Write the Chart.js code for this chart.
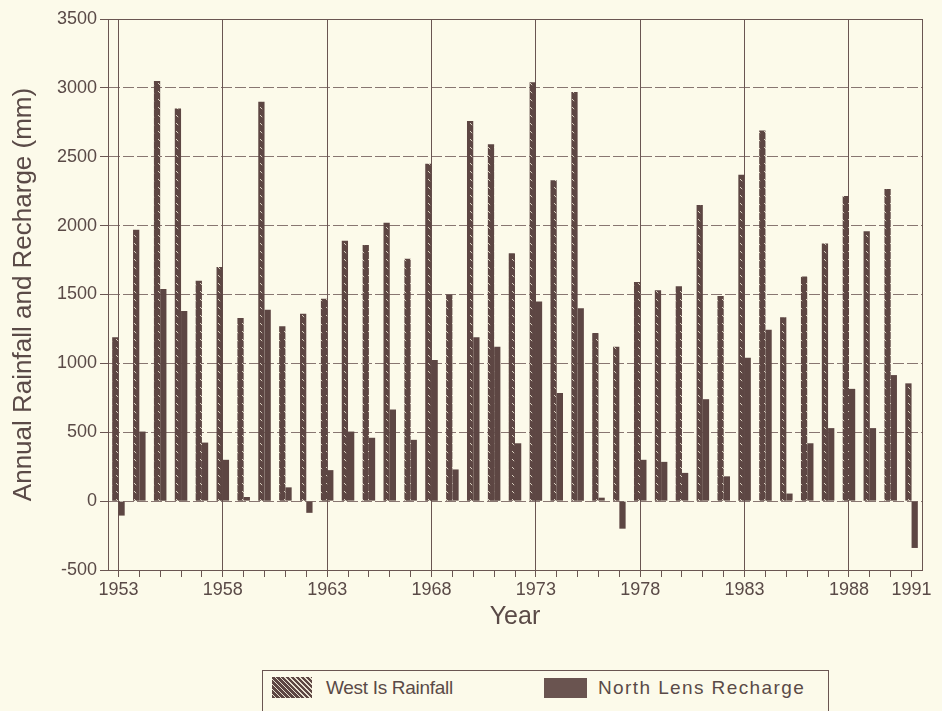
<!DOCTYPE html>
<html>
<head>
<meta charset="utf-8">
<script src="https://cdn.jsdelivr.net/npm/chart.js@4.4.1/dist/chart.umd.min.js"></script>
<style>
  html, body { margin: 0; padding: 0; background: #fcfaea; }
  #wrap { position: relative; width: 942px; height: 711px; overflow: hidden; background: #fcfaea; }
  #c { position: absolute; left: 0; top: 0; }
  #legend { position: absolute; left: 262px; top: 670px; width: 567px; height: 60px;
            border: 1px solid #6a5552; box-sizing: border-box; background: #fcfaea;
            font-family: "Liberation Sans", Arial, Helvetica, sans-serif; font-size: 19px; color: #5a4a47; }
  .sw { position: absolute; }
  .lt { position: absolute; line-height: 22px; white-space: nowrap; }
</style>
</head>
<body>
<div id="wrap">
  <canvas id="c" width="942" height="711"></canvas>
  <div id="legend">
    <div class="sw" style="left:9px;top:6px;width:40px;height:21px;background:repeating-linear-gradient(45deg,#5d4643 0px,#5d4643 2.3px,#e6dfcf 2.3px,#e6dfcf 3.5px);"></div>
    <div class="lt" style="left:63px;top:6px;letter-spacing:-0.3px;">West Is Rainfall</div>
    <div class="sw" style="left:281px;top:7px;width:43px;height:20px;background:#6a5450;"></div>
    <div class="lt" style="left:335px;top:6px;letter-spacing:1.4px;">North Lens Recharge</div>
  </div>
</div>
<script>
const years = [1953,1954,1955,1956,1957,1958,1959,1960,1961,1962,1963,1964,1965,1966,1967,1968,1969,1970,1971,1972,1973,1974,1975,1976,1977,1978,1979,1980,1981,1982,1983,1984,1985,1986,1987,1988,1989,1990,1991];
const westIsRainfall = [1190,1970,3050,2850,1600,1700,1330,2900,1270,1360,1470,1890,1860,2020,1760,2450,1500,2760,2590,1800,3040,2330,2970,1220,1120,1590,1530,1560,2150,1490,2370,2690,1335,1630,1870,2215,1960,2265,855];
const northLensRecharge = [-105,505,1540,1380,425,300,30,1390,100,-85,225,505,460,665,445,1025,230,1190,1120,420,1450,785,1400,25,-200,300,285,205,740,180,1040,1245,55,420,530,815,530,915,-340];
const labeledYears = [1953,1958,1963,1968,1973,1978,1983,1988,1991];
const gridYears = [1953,1958,1963,1968,1973,1978,1983,1988];
const yTicks = { min: -500, max: 3500, step: 500 };

const BAR = '#5d4643';
const LINE = '#6a5552';
const TEXT = '#5a4a47';
const FONT = '"Liberation Sans", Arial, Helvetica, sans-serif';

function makeHatch() {
  const t = document.createElement('canvas');
  t.width = 6; t.height = 8;
  const g = t.getContext('2d');
  g.fillStyle = BAR;
  g.fillRect(0, 0, 6, 8);
  g.strokeStyle = '#d9cfc0';
  g.lineWidth = 1;
  g.beginPath();
  g.moveTo(2, 3);
  g.lineTo(4.2, 5.2);
  g.stroke();
  return g.createPattern(t, 'repeat');
}

const framePlugin = {
  id: 'frame',
  afterDatasetsDraw(chart) {
    const { ctx, chartArea: a } = chart;
    ctx.save();
    ctx.strokeStyle = LINE;
    ctx.lineWidth = 1;
    ctx.strokeRect(Math.round(a.left) + 0.5, Math.round(a.top) + 0.5, Math.round(a.right - a.left), Math.round(a.bottom - a.top));
    ctx.restore();
  }
};

new Chart(document.getElementById('c'), {
  type: 'bar',
  data: {
    labels: years.map(String),
    datasets: [
      { label: 'West Is Rainfall', data: westIsRainfall, backgroundColor: makeHatch(), borderWidth: 0,
        categoryPercentage: 0.6, barPercentage: 1.0 },
      { label: 'North Lens Recharge', data: northLensRecharge, backgroundColor: BAR, borderWidth: 0,
        categoryPercentage: 0.6, barPercentage: 1.0 }
    ]
  },
  options: {
    responsive: false,
    animation: false,
    layout: { padding: { left: 0, right: 20, top: 19, bottom: 0 } },
    plugins: { legend: { display: false }, tooltip: { enabled: false } },
    scales: {
      x: {
        offset: true,
        afterFit(s) { s.height = 141; },
        grid: {
          offset: false,
          color: (c) => gridYears.includes(years[c.index]) ? LINE : 'rgba(0,0,0,0)',
          lineWidth: 1,
          tickColor: LINE,
          tickLength: 7,
          drawTicks: true
        },
        border: { display: true, color: LINE, width: 1 },
        ticks: {
          autoSkip: false,
          maxRotation: 0,
          padding: 2,
          color: TEXT,
          font: { family: FONT, size: 18 },
          callback(v, i) { return labeledYears.includes(years[i]) ? String(years[i]) : ''; }
        },
        title: {
          display: true, text: 'Year', color: TEXT,
          font: { family: FONT, size: 25 },
          padding: { top: 0, bottom: 79 }
        }
      },
      y: {
        min: yTicks.min, max: yTicks.max,
        afterFit(s) { s.width = 108; },
        grid: {
          color: 'rgba(106,85,82,0.8)',
          lineWidth: 1,
          tickColor: LINE,
          tickLength: 8
        },
        border: { display: true, color: LINE, width: 1, dash: [11, 3] },
        ticks: {
          stepSize: yTicks.step,
          padding: 3,
          color: TEXT,
          font: { family: FONT, size: 18 },
          callback(v) { return String(v); }
        },
        title: {
          display: true, text: 'Annual Rainfall and Recharge (mm)', color: TEXT,
          font: { family: FONT, size: 26 },
          padding: { top: 8, bottom: 0 }
        }
      }
    }
  },
  plugins: [framePlugin]
});
</script>
</body>
</html>
